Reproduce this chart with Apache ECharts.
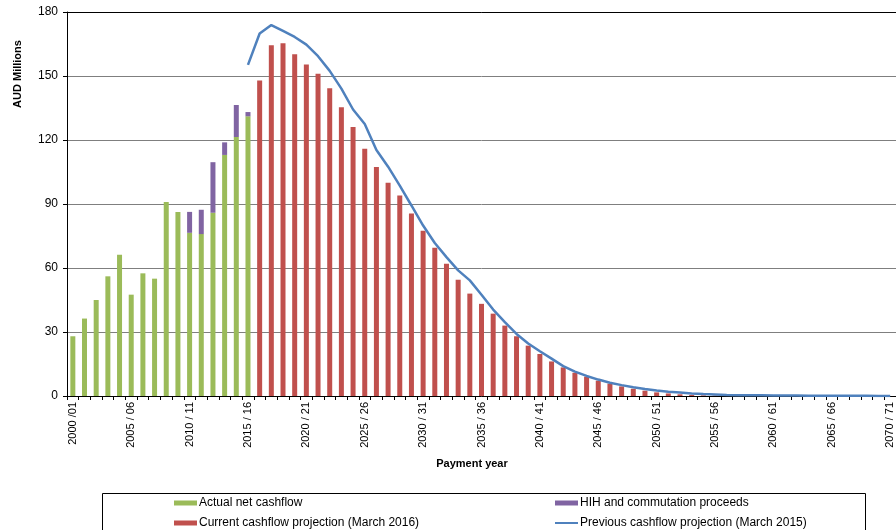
<!DOCTYPE html>
<html><head><meta charset="utf-8">
<script src="https://cdn.jsdelivr.net/npm/echarts@6/dist/echarts.min.js"></script>
<style>html,body{margin:0;padding:0;background:#fff}#c{width:896px;height:530px}</style>
</head><body><div id="c"></div>
<script>
const categories = ["2000 /01","2001 / 02","2002 / 03","2003 / 04","2004 / 05","2005 / 06","2006 / 07","2007 / 08","2008 / 09","2009 / 10",
"2010 / 11","2011 / 12","2012 / 13","2013 / 14","2014 / 15","2015 / 16","2016 / 17","2017 / 18","2018 / 19","2019 / 20",
"2020 / 21","2021 / 22","2022 / 23","2023 / 24","2024 / 25","2025 / 26","2026 / 27","2027 / 28","2028 / 29","2029 / 30",
"2030 / 31","2031 / 32","2032 / 33","2033 / 34","2034 / 35","2035 / 36","2036 / 37","2037 / 38","2038 / 39","2039 / 40",
"2040 / 41","2041 / 42","2042 / 43","2043 / 44","2044 / 45","2045 / 46","2046 / 47","2047 / 48","2048 / 49","2049 / 50",
"2050 / 51","2051 / 52","2052 / 53","2053 / 54","2054 / 55","2055 / 56","2056 / 57","2057 / 58","2058 / 59","2059 / 60",
"2060 / 61","2061 / 62","2062 / 63","2063 / 64","2064 / 65","2065 / 66","2066 / 67","2067 / 68","2068 / 69","2069 / 70",
"2070 / 71"];
// 2000/01 .. 2015/16
const actualNet = [28,36.3,45,56.1,66.2,47.5,57.5,55,90.9,86.3,76.5,75.9,85.9,113,121.4,131.1];
const hihProceeds = [null,null,null,null,null,null,null,null,null,null,9.8,11.4,23.7,5.9,15,2];
// 2016/17 .. 2070/71
const currentProj = [147.9,164.4,165.3,160.2,155.4,151,144.2,135.4,126.1,115.9,107.4,100,94,85.6,77.5,69.5,62,54.5,48,43.2,
38.6,33,28,23.6,19.7,16.2,13.4,10.9,9.1,7.2,5.8,4.5,3.4,2.5,1.7,1.2,0.8,0.5,0.3,0.2,0.1,0.1,0,0,0,0,0,0,0,0,0,0,0,0,0];
// 2015/16 .. 2070/71
const previousProj = [155.2,169.9,173.9,171.1,168.3,164.7,159.3,152.4,144.1,134.3,127.5,115.3,107.5,98.6,89.3,79.9,71.7,65.1,58.9,54.2,
47.5,40.5,34.6,29.1,24.6,21,17.5,14,11.4,9.4,7.7,6.2,5.1,4.1,3.3,2.6,2,1.6,1.2,0.9,0.7,0.5,0.4,0.35,0.3,0.25,0.2,0.2,0.15,0.15,0.1,0.1,0.1,0.1,0.05,0.05];
const yTicks = [0,30,60,90,120,150,180];

const N = categories.length;
function pad(arr, start){ const out = new Array(N).fill(null); arr.forEach((v,i)=>{ out[start+i]=v; }); return out; }

const chart = echarts.init(document.getElementById('c'), null, {renderer:'canvas'});
const font = '"Liberation Sans", Arial, sans-serif';
const legText = {fontSize:12, color:'#000', fontFamily:font, padding:[0,0,0,-3]};
function leg(left, top, name, h){
  return {left:left, top:top, orient:'horizontal', itemWidth:23, itemHeight:h, icon:'rect',
    textStyle:legText, data:[{name:name, icon:'rect'}]};
}
chart.setOption({
  animation:false,
  grid:{left:67, right:0, top:12, bottom:134, containLabel:false},
  xAxis:[{type:'category', data:categories, boundaryGap:true,
    axisLine:{lineStyle:{color:'#000', width:1}},
    axisTick:{show:true, interval:0, length:4, lineStyle:{color:'#000'}},
    axisLabel:{interval:4, rotate:90, fontSize:11, color:'#000', fontFamily:font, margin:6}},
    {type:'category', data:categories, position:'top', boundaryGap:true,
     axisLine:{show:true, lineStyle:{color:'#000', width:1}}, axisTick:{show:false}, axisLabel:{show:false}}],
  yAxis:{type:'value', min:yTicks[0], max:yTicks[yTicks.length-1], interval:30,
    axisLine:{show:true, lineStyle:{color:'#000'}},
    axisTick:{show:true, length:4, lineStyle:{color:'#000'}},
    axisLabel:{fontSize:12, color:'#000', fontFamily:font, margin:9},
    splitLine:{lineStyle:{color:'#7f7f7f', width:1}}},
  legend:[
    leg(169, 492, 'Actual net cashflow', 5),
    leg(169, 512, 'Current cashflow projection (March 2016)', 5),
    leg(550, 492, 'HIH and commutation proceeds', 5),
    leg(550, 512, 'Previous cashflow projection (March 2015)', 2)
  ],
  graphic:[
    {type:'rect', left:100, top:491, shape:{width:763, height:60}, style:{fill:'none', stroke:'#000', lineWidth:1}, silent:true},
    {type:'text', x:18, y:74, rotation:Math.PI/2, style:{text:'AUD Millions', font:'bold 11px "Liberation Sans", Arial, sans-serif', fill:'#000', align:'center', verticalAlign:'middle'}},
    {type:'text', x:472, y:464, style:{text:'Payment year', font:'bold 11px "Liberation Sans", Arial, sans-serif', fill:'#000', align:'center', verticalAlign:'middle'}}
  ],
  series:[
    {name:'Actual net cashflow', type:'bar', stack:'a', barWidth:5, data:pad(actualNet,0), itemStyle:{color:'#9BBB59'}},
    {name:'HIH and commutation proceeds', type:'bar', stack:'a', barWidth:5, data:pad(hihProceeds,0), itemStyle:{color:'#8064A2'}},
    {name:'Current cashflow projection (March 2016)', type:'bar', stack:'a', barWidth:5, data:pad(currentProj,16), itemStyle:{color:'#C0504D'}},
    {name:'Previous cashflow projection (March 2015)', type:'line', data:pad(previousProj,15), symbol:'none', showSymbol:false,
     lineStyle:{color:'#4F81BD', width:2.5}, itemStyle:{color:'#4F81BD'}, z:5}
  ]
});
</script></body></html>
